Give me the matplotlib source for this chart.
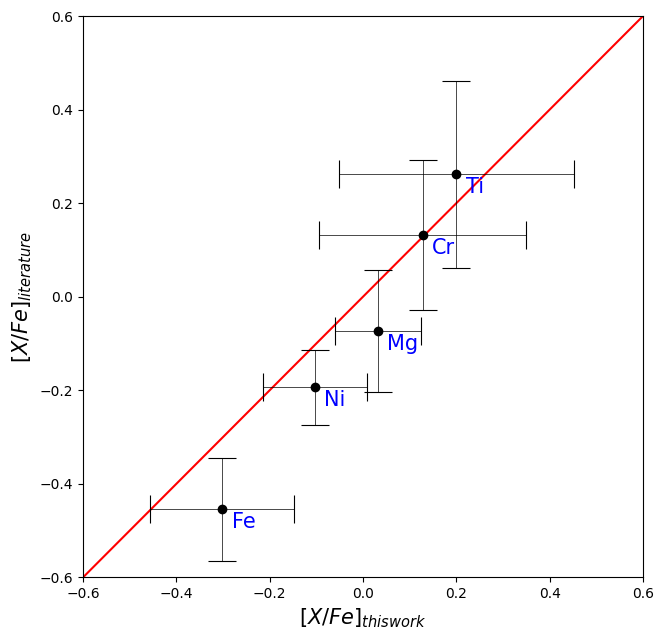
import matplotlib
matplotlib.use("Agg")
import matplotlib.pyplot as plt
import numpy as np

elements = ["Fe", "Ni", "Mg", "Cr", "Ti"]
x_this = [-0.302, -0.103, 0.032, 0.128, 0.20]
x_err = [0.154, 0.112, 0.092, 0.222, 0.252]
y_lit = [-0.455, -0.194, -0.074, 0.132, 0.262]
y_err = [0.11, 0.08, 0.13, 0.16, 0.20]

fig = plt.figure(figsize=(6.65, 6.4), dpi=100)
ax = fig.add_axes([0.125, 0.098, 0.842, 0.877])

line = np.linspace(-0.6, 0.6, 10)
ax.plot(line, line, color="red", lw=1.5)

ax.errorbar(x_this, y_lit, xerr=x_err, yerr=y_err, fmt="o", color="black",
            ecolor="black", elinewidth=0.5, capsize=10, capthick=0.8, markersize=6)

for name, x, y in zip(elements, x_this, y_lit):
    ax.text(x + 0.02, y - 0.04, name, color="blue", fontsize=15)

ax.set_xlim(-0.6, 0.6)
ax.set_ylim(-0.6, 0.6)
ax.set_xlabel(r"$[X/Fe]_{thiswork}$", fontsize=15)
ax.set_ylabel(r"$[X/Fe]_{literature}$", fontsize=15)

fig.savefig("out.png", dpi=100)
